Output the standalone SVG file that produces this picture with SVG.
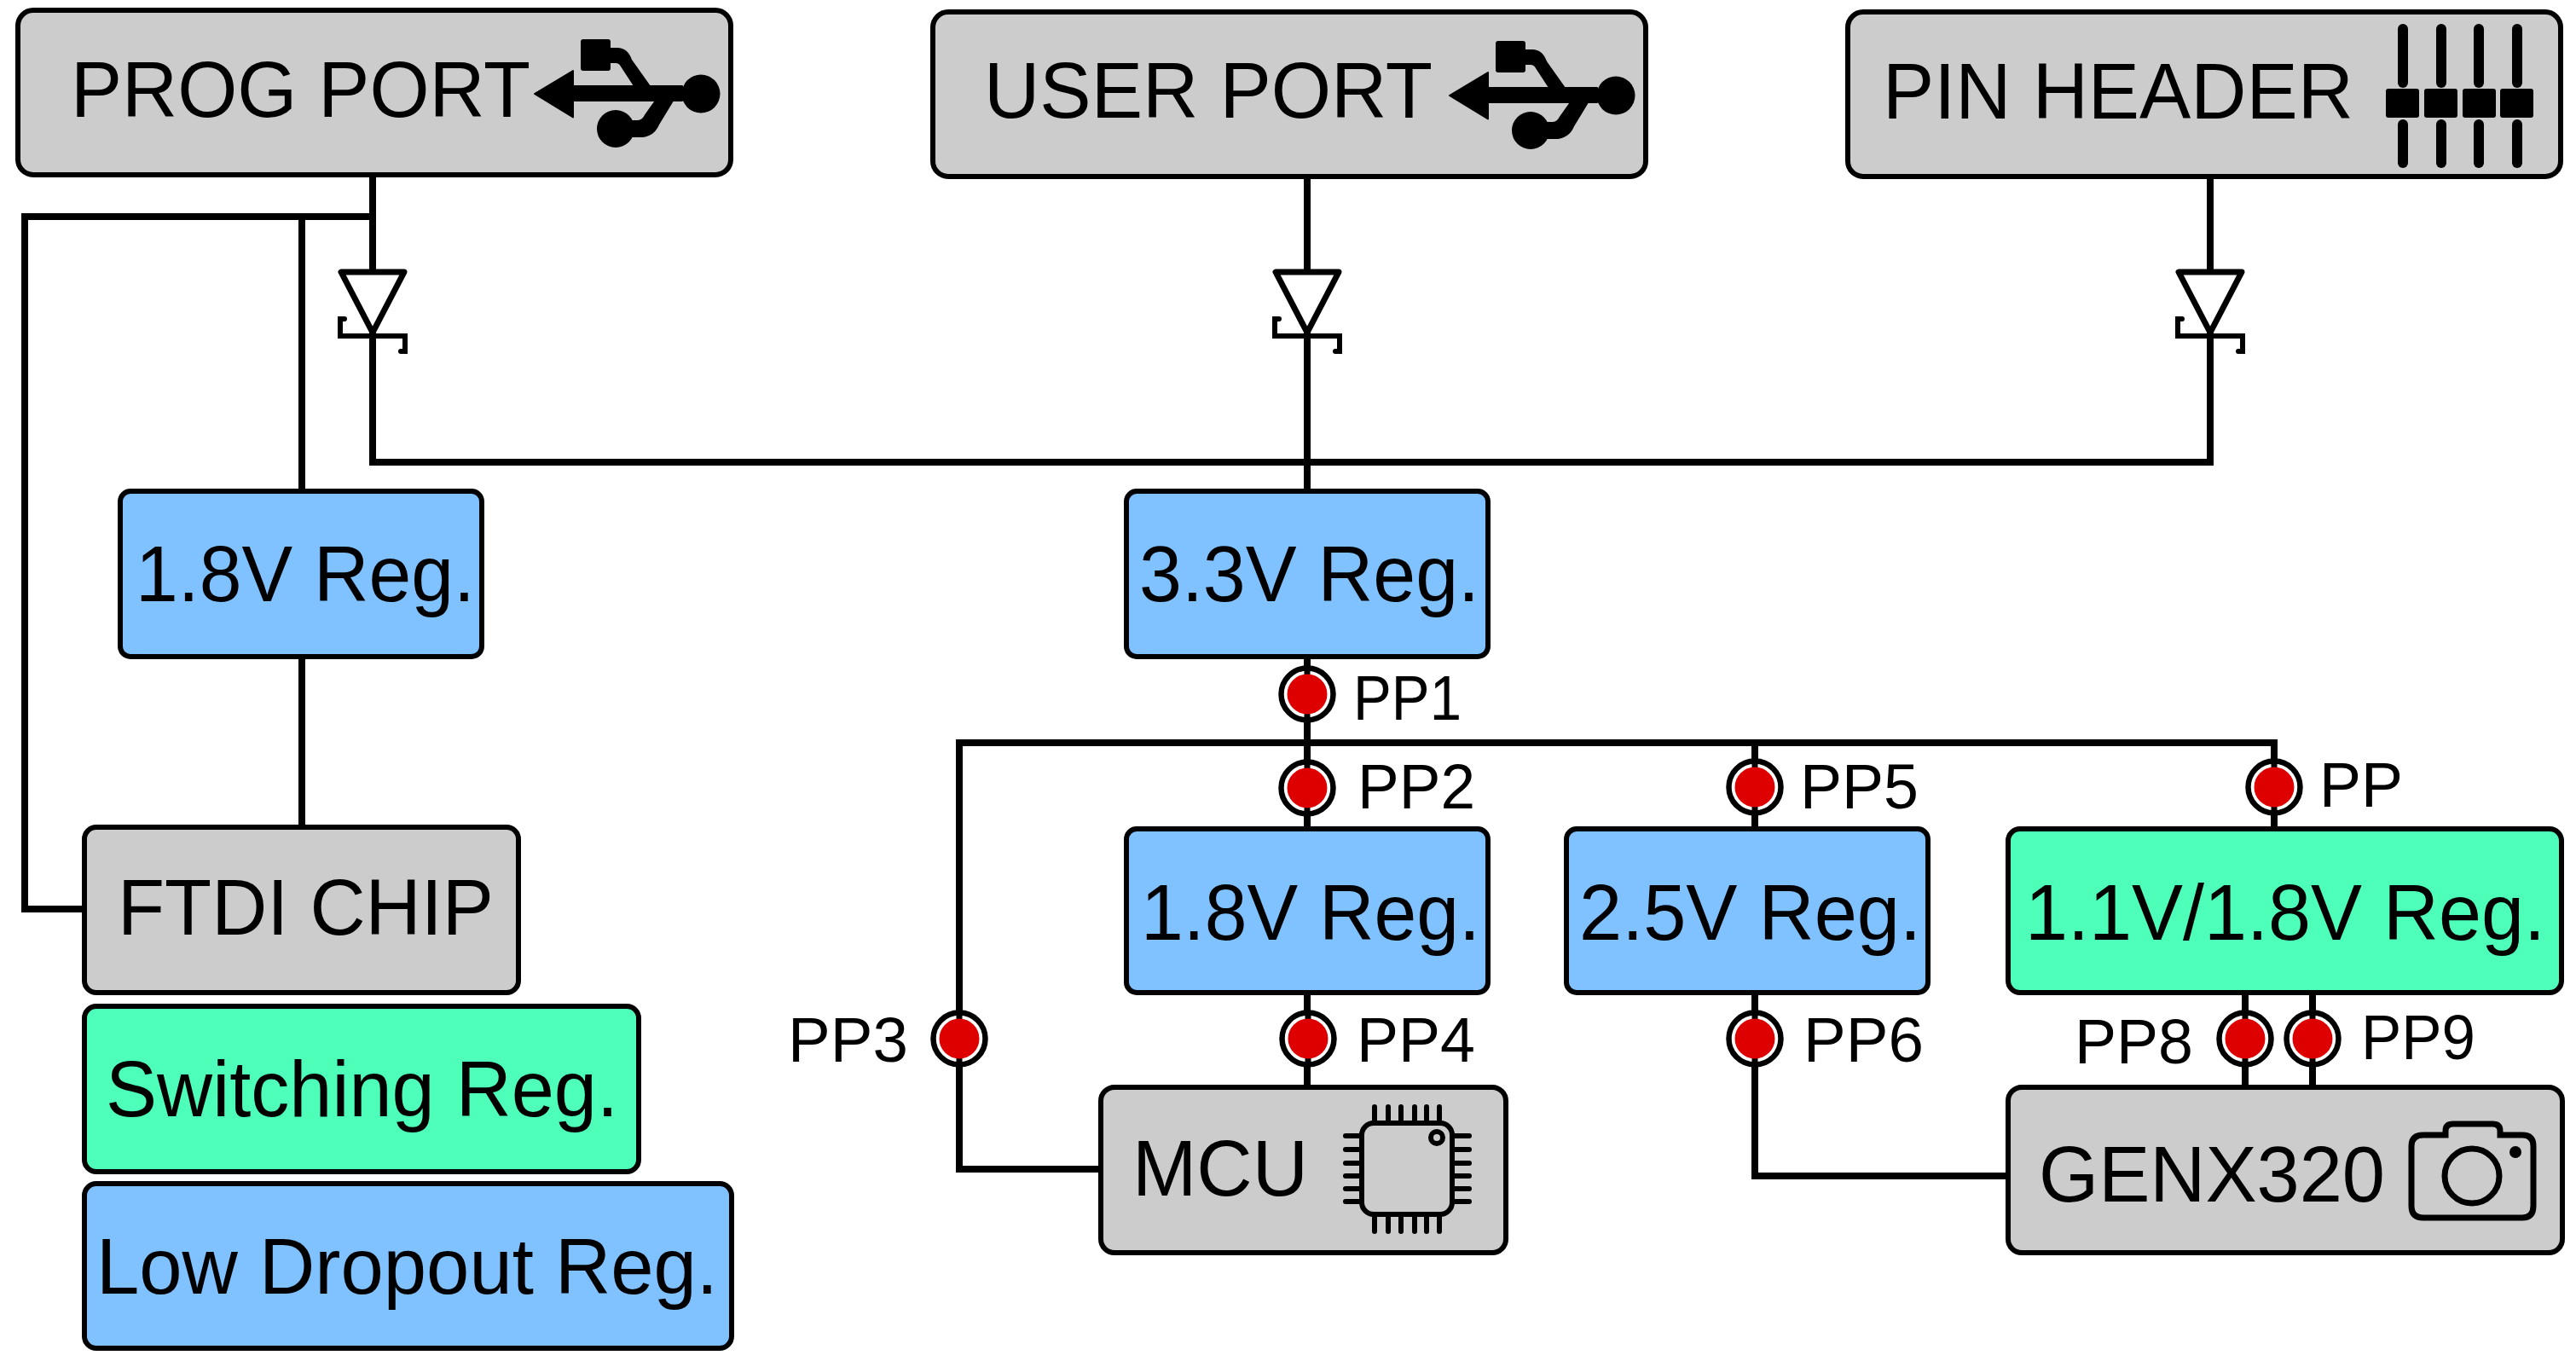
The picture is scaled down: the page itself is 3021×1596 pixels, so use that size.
<svg xmlns="http://www.w3.org/2000/svg" xmlns:xlink="http://www.w3.org/1999/xlink" width="3021" height="1596" viewBox="0 0 3021 1596">
<style>
.box{stroke:#000;stroke-width:6}
.gray{fill:#ccc}.blue{fill:#80c1ff}.green{fill:#4dffb8}
text{font-family:"Liberation Sans",Arial,sans-serif;fill:#000}
.t{font-size:93px}.p{font-size:75px}
.w{fill:none;stroke:#000;stroke-width:8}
.ln{fill:none;stroke:#000;stroke-width:6}
.pin{fill:none;stroke:#000;stroke-width:6;stroke-linecap:round}
</style>
<defs>
<g id="usb">
<path d="M627 110L672 83V101H800V118H789L772 146Q766 160 750 160H740V142H748Q754 142 757 135L769 118H672V137.500Z" fill="#000" stroke="#000" stroke-width="2" stroke-linejoin="round"/>
<path d="M716 56H724Q736 56 741 70L763 101H743L728 78Q726 74 722 74H716Z" fill="#000"/>
<rect x="681" y="46" width="35" height="37" rx="3" fill="#000"/>
<circle cx="822" cy="110" r="22.500" fill="#000"/>
<circle cx="722" cy="151" r="22" fill="#000"/>
</g>
<g id="diode">
<path d="M-37 -71H37L0 0Z" fill="#fff" stroke="#000" stroke-width="7" stroke-linejoin="round"/>
<path d="M-33 -16H-38V4H38V22H33" fill="none" stroke="#000" stroke-width="6" stroke-linecap="round"/>
</g>
<g id="tp">
<circle r="30.500" fill="#fff" stroke="#000" stroke-width="6.500"/>
<path d="M0 -30V30" stroke="#000" stroke-width="7"/>
<circle r="23.500" fill="#de0000"/>
</g>
</defs>
<g id="connectors">
<path class="w" d="M437 206V542H2592V208"/>
<path class="w" d="M437 254H29V1066H96"/>
<path class="w" d="M354 254V574"/>
<path class="w" d="M354 771V969"/>
<path class="w" d="M1533 208V574"/>
<path class="w" d="M1533 771V971"/>
<path class="w" d="M1125 1218V871H2667V971"/>
<path class="w" d="M2058 871V971"/>
<path class="w" d="M1125 1218V1371H1289"/>
<path class="w" d="M1533 1166V1274"/>
<path class="w" d="M2058 1166V1379H2353"/>
<path class="w" d="M2633 1166V1274"/>
<path class="w" d="M2712 1166V1274"/>
</g>
<g id="prog-port"><rect class="box gray" x="21" y="12" width="836" height="193" rx="18"/><text class="t" x="83" y="137" textLength="539" lengthAdjust="spacingAndGlyphs">PROG PORT</text><use xlink:href="#usb" href="#usb"/></g>
<g id="user-port"><rect class="box gray" x="1094" y="14" width="836" height="193" rx="18"/><text class="t" x="1154" y="138" textLength="526" lengthAdjust="spacingAndGlyphs">USER PORT</text><use xlink:href="#usb" href="#usb" x="1073" y="2"/></g>
<g id="pin-header"><rect class="box gray" x="2167" y="14" width="836" height="193" rx="18"/><text class="t" x="2208" y="139" textLength="552" lengthAdjust="spacingAndGlyphs">PIN HEADER</text>
<g fill="#000"><rect x="2812" y="28" width="12" height="75" rx="6"/><rect x="2812" y="140" width="12" height="57" rx="6"/><rect x="2798" y="104" width="39" height="34" rx="3"/>
<rect x="2857" y="28" width="12" height="75" rx="6"/><rect x="2857" y="140" width="12" height="57" rx="6"/><rect x="2843" y="104" width="39" height="34" rx="3"/>
<rect x="2901" y="28" width="12" height="75" rx="6"/><rect x="2901" y="140" width="12" height="57" rx="6"/><rect x="2888" y="104" width="39" height="34" rx="3"/>
<rect x="2946" y="28" width="12" height="75" rx="6"/><rect x="2946" y="140" width="12" height="57" rx="6"/><rect x="2932" y="104" width="39" height="34" rx="3"/></g></g>
<g id="diode-1"><use xlink:href="#diode" href="#diode" x="437" y="390"/></g>
<g id="diode-2"><use xlink:href="#diode" href="#diode" x="1533" y="390"/></g>
<g id="diode-3"><use xlink:href="#diode" href="#diode" x="2592" y="390"/></g>
<g id="reg-18-a"><rect class="box blue" x="141" y="576" width="424" height="194" rx="12"/><text class="t" x="159" y="705" textLength="398" lengthAdjust="spacingAndGlyphs">1.8V Reg.</text></g>
<g id="reg-33"><rect class="box blue" x="1321" y="576" width="424" height="194" rx="12"/><text class="t" x="1336" y="705" textLength="399" lengthAdjust="spacingAndGlyphs">3.3V Reg.</text></g>
<g id="ftdi"><rect class="box gray" x="99" y="970" width="509" height="194" rx="14"/><text class="t" x="138" y="1096" textLength="441" lengthAdjust="spacingAndGlyphs">FTDI CHIP</text></g>
<g id="legend-switching"><rect class="box green" x="99" y="1180" width="650" height="194" rx="14"/><text class="t" x="124" y="1309" textLength="601" lengthAdjust="spacingAndGlyphs">Switching Reg.</text></g>
<g id="legend-ldo"><rect class="box blue" x="99" y="1388" width="759" height="193" rx="14"/><text class="t" x="113" y="1517" textLength="729" lengthAdjust="spacingAndGlyphs">Low Dropout Reg.</text></g>
<g id="reg-18-b"><rect class="box blue" x="1321" y="972" width="424" height="192" rx="12"/><text class="t" x="1338" y="1102" textLength="398" lengthAdjust="spacingAndGlyphs">1.8V Reg.</text></g>
<g id="reg-25"><rect class="box blue" x="1837" y="972" width="424" height="192" rx="12"/><text class="t" x="1852" y="1102" textLength="401" lengthAdjust="spacingAndGlyphs">2.5V Reg.</text></g>
<g id="reg-11-18"><rect class="box green" x="2355" y="972" width="649" height="192" rx="14"/><text class="t" x="2375" y="1102" textLength="610" lengthAdjust="spacingAndGlyphs">1.1V/1.8V Reg.</text></g>
<g id="mcu"><rect class="box gray" x="1291" y="1275" width="475" height="194" rx="16"/><text class="t" x="1328" y="1402" textLength="206" lengthAdjust="spacingAndGlyphs">MCU</text>
<rect class="ln" x="1597" y="1317" width="106" height="107" rx="14"/><circle class="ln" cx="1685" cy="1334" r="7"/>
<path class="pin" d="M1612 1298V1314M1628 1298V1314M1643 1298V1314M1659 1298V1314M1673 1298V1314M1688 1298V1314M1612 1427V1444M1628 1427V1444M1643 1427V1444M1659 1427V1444M1673 1427V1444M1688 1427V1444M1578 1332H1594M1578 1348H1594M1578 1364H1594M1578 1379H1594M1578 1394H1594M1578 1409H1594M1706 1332H1723M1706 1348H1723M1706 1364H1723M1706 1379H1723M1706 1394H1723M1706 1409H1723"/></g>
<g id="genx320"><rect class="box gray" x="2355" y="1275" width="650" height="194" rx="16"/><text class="t" x="2391" y="1409" textLength="406" lengthAdjust="spacingAndGlyphs">GENX320</text>
<path d="M2842 1331H2868V1326Q2868 1318 2877 1318H2923Q2932 1318 2932 1326V1331H2958Q2971 1331 2971 1344V1414Q2971 1428 2958 1428H2842Q2828 1428 2828 1414V1344Q2828 1331 2842 1331Z" fill="none" stroke="#000" stroke-width="7"/>
<circle cx="2899" cy="1379" r="32" fill="none" stroke="#000" stroke-width="7"/><circle cx="2950" cy="1351" r="7" fill="#000"/></g>
<g id="pp1"><use xlink:href="#tp" href="#tp" x="1533" y="814"/><text class="p" x="1587" y="844" textLength="127" lengthAdjust="spacingAndGlyphs">PP1</text></g>
<g id="pp2"><use xlink:href="#tp" href="#tp" x="1533" y="924"/><text class="p" x="1592" y="948" textLength="138" lengthAdjust="spacingAndGlyphs">PP2</text></g>
<g id="pp5"><use xlink:href="#tp" href="#tp" x="2058" y="923"/><text class="p" x="2111" y="948" textLength="139" lengthAdjust="spacingAndGlyphs">PP5</text></g>
<g id="pp"><use xlink:href="#tp" href="#tp" x="2667" y="923"/><text class="p" x="2720" y="946" textLength="98" lengthAdjust="spacingAndGlyphs">PP</text></g>
<g id="pp3"><use xlink:href="#tp" href="#tp" x="1125" y="1218"/><text class="p" x="924" y="1245" textLength="141" lengthAdjust="spacingAndGlyphs">PP3</text></g>
<g id="pp4"><use xlink:href="#tp" href="#tp" x="1534" y="1218"/><text class="p" x="1591" y="1245" textLength="139" lengthAdjust="spacingAndGlyphs">PP4</text></g>
<g id="pp6"><use xlink:href="#tp" href="#tp" x="2058" y="1218"/><text class="p" x="2115" y="1245" textLength="141" lengthAdjust="spacingAndGlyphs">PP6</text></g>
<g id="pp8"><use xlink:href="#tp" href="#tp" x="2633" y="1218"/><text class="p" x="2433" y="1247" textLength="139" lengthAdjust="spacingAndGlyphs">PP8</text></g>
<g id="pp9"><use xlink:href="#tp" href="#tp" x="2712" y="1218"/><text class="p" x="2769" y="1242" textLength="134" lengthAdjust="spacingAndGlyphs">PP9</text></g>
</svg>
